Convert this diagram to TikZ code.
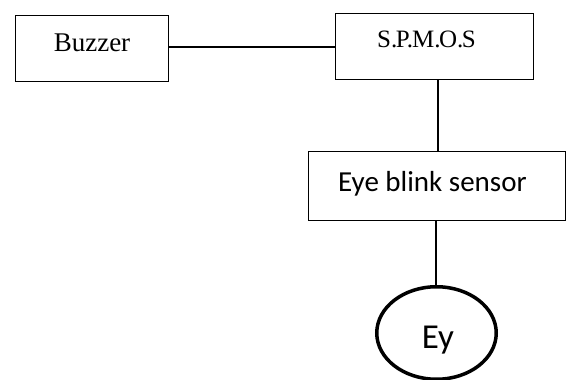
\documentclass[tikz,border=0pt]{standalone}
\usepackage{fontspec}
\setmainfont{Liberation Serif}
\newfontfamily\calfont{Carlito}
\usetikzlibrary{shapes.geometric}
\begin{document}
\begin{tikzpicture}[x=1pt,y=-1pt,
  blockbox/.style={draw,line width=0.9pt,inner sep=0pt,anchor=north west},
  lbl/.style={anchor=base,inner sep=0pt},
  conn/.style={line width=1.1pt}]
\useasboundingbox (0,0) rectangle (566,380);
\node[blockbox,minimum width=153pt,minimum height=66pt] (buz) at (15,15) {};
\node[lbl,font=\fontsize{27}{30}\selectfont] at (92,52) {Buzzer};
\node[blockbox,minimum width=198pt,minimum height=66pt] (spm) at (335,13) {};
\node[lbl,font=\fontsize{25}{30}\selectfont] at (426.5,48) {S.\kern-1.5pt P.\kern-1pt M.\kern-1.5pt O.\kern-1.5pt S};
\node[blockbox,minimum width=257pt,minimum height=69pt] (eye) at (308,151) {};
\node[lbl,font=\calfont\fontsize{29}{32}\selectfont] at (432.5,191) {Eye blink sensor};
\node[draw,ellipse,line width=3.5pt,minimum width=119.5pt,minimum height=92.5pt,inner sep=0pt] (ey) at (436.5,333) {};
\node[lbl,font=\calfont\fontsize{35}{38}\selectfont] at (438,348) {Ey};
\draw[conn] (buz.east |- 0,47) -- (spm.west |- 0,47);
\draw[conn] (spm.south -| 438,0) -- (eye.north -| 438,0);
\draw[conn] (eye.south -| 436,0) -- (ey.north -| 436,0);
\end{tikzpicture}
\end{document}
